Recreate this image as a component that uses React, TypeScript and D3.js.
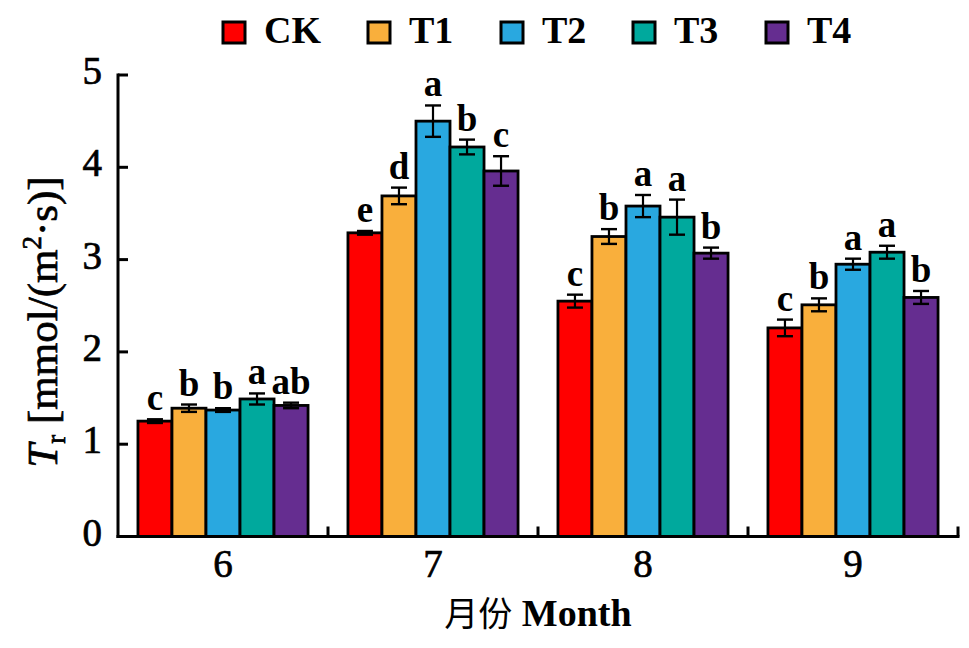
import * as d3 from 'd3';

// chart data
const months = ['6', '7', '8', '9'];
const treatments = ['CK', 'T1', 'T2', 'T3', 'T4'];
const colors = ['#FF0000', '#F9AF3C', '#29A8E0', '#00A99D', '#652D90'];

// transpiration rate per month, one array per treatment
const ckValues = [1.25, 3.29, 2.55, 2.26];
const t1Values = [1.39, 3.69, 3.25, 2.51];
const t2Values = [1.37, 4.5, 3.58, 2.95];
const t3Values = [1.49, 4.22, 3.46, 3.08];
const t4Values = [1.42, 3.96, 3.07, 2.59];

const ckErrors = [0.02, 0.02, 0.07, 0.09];
const t1Errors = [0.04, 0.09, 0.08, 0.07];
const t2Errors = [0.02, 0.17, 0.12, 0.06];
const t3Errors = [0.06, 0.08, 0.19, 0.07];
const t4Errors = [0.03, 0.16, 0.06, 0.07];

const ckLetters = ['c', 'e', 'c', 'c'];
const t1Letters = ['b', 'd', 'b', 'b'];
const t2Letters = ['b', 'a', 'a', 'a'];
const t3Letters = ['a', 'b', 'a', 'a'];
const t4Letters = ['ab', 'c', 'b', 'b'];

const yTicks = [0, 1, 2, 3, 4, 5];

const values = [ckValues, t1Values, t2Values, t3Values, t4Values];
const errors = [ckErrors, t1Errors, t2Errors, t3Errors, t4Errors];
const letters = [ckLetters, t1Letters, t2Letters, t3Letters, t4Letters];

const W = 969;
const H = 648;
const margin = { left: 118, right: 11, top: 75, bottom: 112 };
const font = '"Liberation Serif", "Times New Roman", "Noto Sans CJK SC", serif';

export default function App() {
  const x0 = d3.scaleBand<string>()
    .domain(months)
    .range([margin.left, W - margin.right])
    .padding(0);
  const bw = x0.bandwidth();
  const x1 = d3.scaleBand<string>()
    .domain(treatments)
    .range([bw * 0.095, bw * 0.905])
    .padding(0);
  const y = d3.scaleLinear()
    .domain([0, 5])
    .range([H - margin.bottom + 0.5, margin.top]);

  const bottom = y(0);
  const capHalf = 8;

  const legendX = [223, 368, 501, 633, 766];

  // heavier regular text, like the reference rendering
  const heavy = { stroke: '#000', strokeWidth: 0.7, fontWeight: 'normal' } as const;

  return (
    <svg width={W} height={H} style={{ position: 'absolute', left: 0, top: 0, background: '#fff' }}
      fontFamily={font} fontWeight="bold">
      {/* bars */}
      {months.map((m, mi) => (
        <g key={m} transform={`translate(${x0(m)},0)`}>
          {treatments.map((t, ti) => {
            const v = values[ti][mi];
            const e = errors[ti][mi];
            const bx = x1(t)!;
            const cx = bx + x1.bandwidth() / 2;
            return (
              <g key={t}>
                <rect x={bx} y={y(v)} width={x1.bandwidth()} height={bottom - y(v)}
                  fill={colors[ti]} stroke="#000" strokeWidth={2.8} />
                <line x1={cx} x2={cx} y1={y(v + e)} y2={y(v - e)} stroke="#000" strokeWidth={2.2} />
                <line x1={cx - capHalf} x2={cx + capHalf} y1={y(v + e)} y2={y(v + e)} stroke="#000" strokeWidth={2.4} />
                <line x1={cx - capHalf} x2={cx + capHalf} y1={y(v - e)} y2={y(v - e)} stroke="#000" strokeWidth={2.4} />
                <text x={cx} y={y(v + e) - 9} textAnchor="middle" fontSize={37}>{letters[ti][mi]}</text>
              </g>
            );
          })}
        </g>
      ))}

      {/* y axis */}
      <line x1={margin.left} x2={margin.left} y1={y(5) - 1.5} y2={bottom + 1.5} stroke="#000" strokeWidth={3} />
      {yTicks.map((t) => (
        <g key={t}>
          <line x1={margin.left} x2={margin.left + 10} y1={y(t)} y2={y(t)} stroke="#000" strokeWidth={3} />
          <text x={102} y={y(t) + 9} textAnchor="end" fontSize={39} {...heavy}>{t}</text>
        </g>
      ))}

      {/* x axis */}
      <line x1={margin.left - 1.5} x2={W - margin.right + 1.5} y1={bottom} y2={bottom} stroke="#000" strokeWidth={3} />
      {months.map((m) => (
        <g key={m}>
          <line x1={x0(m)! + bw} x2={x0(m)! + bw} y1={bottom} y2={bottom - 10} stroke="#000" strokeWidth={3} />
          <text x={x0(m)! + bw / 2} y={577} textAnchor="middle" fontSize={39} {...heavy}>{m}</text>
        </g>
      ))}

      {/* axis titles */}
      <text x={538} y={626} textAnchor="middle" fontSize={38}>
        <tspan fontFamily='"Noto Sans CJK SC", sans-serif' fontWeight="normal" fontSize={34}>月份</tspan>
        <tspan> Month</tspan>
      </text>
      <text transform={`translate(57,${322}) rotate(-90)`} textAnchor="middle" fontSize={43} {...heavy}>
        <tspan fontStyle="italic">T</tspan>
        <tspan fontSize={27} dy={8}>r</tspan>
        <tspan dy={-8}> [mmol/(m</tspan>
        <tspan fontSize={27} dy={-16}>2</tspan>
        <tspan dy={16}>·s)]</tspan>
      </text>

      {/* legend */}
      {treatments.map((t, i) => (
        <g key={t}>
          <rect x={legendX[i]} y={22} width={22} height={21} fill={colors[i]} stroke="#000" strokeWidth={3} />
          <text x={legendX[i] + 41} y={43} fontSize={38}>{t}</text>
        </g>
      ))}
    </svg>
  );
}
